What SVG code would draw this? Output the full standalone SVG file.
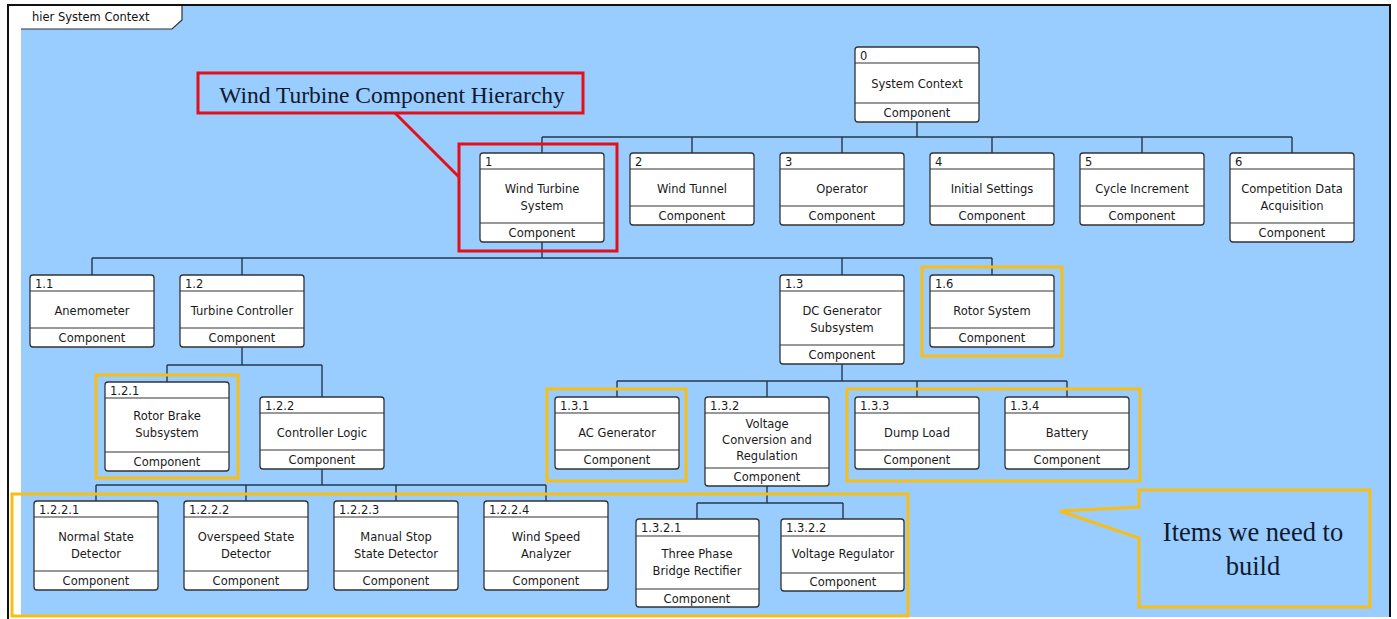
<svg xmlns="http://www.w3.org/2000/svg" width="1397" height="619" viewBox="0 0 1397 619">
<defs>
<style>
.n rect.b{fill:#fff;stroke:#333;stroke-width:1.3}
.n line{stroke:#333;stroke-width:1.2}
.n text{font-family:"DejaVu Sans","Liberation Sans",sans-serif;font-size:11.5px;fill:#1a1a1a}
.n text.c{text-anchor:middle}
.con path{fill:none;stroke:#24384c;stroke-width:1.4}
.y{fill:none;stroke:#F7BE16;stroke-width:3}
.r{fill:none;stroke:#E3101A;stroke-width:3}
.t{font-family:"Liberation Serif",serif;fill:#0e1a2e;text-anchor:middle}
</style>
</defs>
<rect x="0" y="0" width="1397" height="619" fill="#fff"/>
<rect x="21" y="6" width="1368" height="611" fill="#99CCFF"/>
<path d="M7 5H1391M8 5V619M1390 5V617" fill="none" stroke="#111" stroke-width="2"/>
<g id="frame-tab">
<path d="M21 6H182V20L172 29H21Z" fill="#fff"/>
<path d="M21 29H172L182 20V6" fill="none" stroke="#333" stroke-width="1.2"/>
<text x="32" y="21" style="font-family:'DejaVu Sans','Liberation Sans',sans-serif;font-size:11.5px;fill:#111">hier System Context</text>
</g>

<g id="connectors" class="con">
<path d="M917 122V137M542 137H1292M542 137V153M692 137V153M842 137V153M992 137V153M1142 137V153M1292 137V153"/>
<path d="M542 242V258M92 258H992M92 258V275M242 258V275M842 258V275M992 258V275"/>
<path d="M242 347V365M167 365H322M167 365V382M322 365V397"/>
<path d="M842 364V381M617 381H1067M617 381V397M767 381V397M917 381V397M1067 381V397"/>
<path d="M322 469V485M96 485H546M96 485V501M246 485V501M396 485V501M546 485V501"/>
<path d="M767 486V503M697 503H843M697 503V519M843 503V519"/>
</g>

<g id="n0" class="n"><rect class="b" x="855" y="47" width="124" height="75" rx="3"/><line x1="855" y1="63" x2="979" y2="63"/><line x1="855" y1="103" x2="979" y2="103"/><text x="860" y="60">0</text><text class="c" x="917" y="88">System Context</text><text class="c" x="917" y="117">Component</text></g>

<g id="n1" class="n"><rect class="b" x="480" y="153" width="124" height="89" rx="3"/><line x1="480" y1="169" x2="604" y2="169"/><line x1="480" y1="223" x2="604" y2="223"/><text x="485" y="166">1</text><text class="c" x="542" y="193">Wind Turbine</text><text class="c" x="542" y="210">System</text><text class="c" x="542" y="237">Component</text></g>
<g id="n2" class="n"><rect class="b" x="630" y="153" width="124" height="72" rx="3"/><line x1="630" y1="169" x2="754" y2="169"/><line x1="630" y1="206" x2="754" y2="206"/><text x="635" y="166">2</text><text class="c" x="692" y="193">Wind Tunnel</text><text class="c" x="692" y="220">Component</text></g>
<g id="n3" class="n"><rect class="b" x="780" y="153" width="124" height="72" rx="3"/><line x1="780" y1="169" x2="904" y2="169"/><line x1="780" y1="206" x2="904" y2="206"/><text x="785" y="166">3</text><text class="c" x="842" y="193">Operator</text><text class="c" x="842" y="220">Component</text></g>
<g id="n4" class="n"><rect class="b" x="930" y="153" width="124" height="72" rx="3"/><line x1="930" y1="169" x2="1054" y2="169"/><line x1="930" y1="206" x2="1054" y2="206"/><text x="935" y="166">4</text><text class="c" x="992" y="193">Initial Settings</text><text class="c" x="992" y="220">Component</text></g>
<g id="n5" class="n"><rect class="b" x="1080" y="153" width="124" height="72" rx="3"/><line x1="1080" y1="169" x2="1204" y2="169"/><line x1="1080" y1="206" x2="1204" y2="206"/><text x="1085" y="166">5</text><text class="c" x="1142" y="193">Cycle Increment</text><text class="c" x="1142" y="220">Component</text></g>
<g id="n6" class="n"><rect class="b" x="1230" y="153" width="124" height="89" rx="3"/><line x1="1230" y1="169" x2="1354" y2="169"/><line x1="1230" y1="223" x2="1354" y2="223"/><text x="1235" y="166">6</text><text class="c" x="1292" y="193">Competition Data</text><text class="c" x="1292" y="210">Acquisition</text><text class="c" x="1292" y="237">Component</text></g>

<g id="n1-1" class="n"><rect class="b" x="30" y="275" width="124" height="72" rx="3"/><line x1="30" y1="291" x2="154" y2="291"/><line x1="30" y1="328" x2="154" y2="328"/><text x="35" y="288">1.1</text><text class="c" x="92" y="315">Anemometer</text><text class="c" x="92" y="342">Component</text></g>
<g id="n1-2" class="n"><rect class="b" x="180" y="275" width="124" height="72" rx="3"/><line x1="180" y1="291" x2="304" y2="291"/><line x1="180" y1="328" x2="304" y2="328"/><text x="185" y="288">1.2</text><text class="c" x="242" y="315">Turbine Controller</text><text class="c" x="242" y="342">Component</text></g>
<g id="n1-3" class="n"><rect class="b" x="780" y="275" width="124" height="89" rx="3"/><line x1="780" y1="291" x2="904" y2="291"/><line x1="780" y1="345" x2="904" y2="345"/><text x="785" y="288">1.3</text><text class="c" x="842" y="315">DC Generator</text><text class="c" x="842" y="332">Subsystem</text><text class="c" x="842" y="359">Component</text></g>
<g id="n1-6" class="n"><rect class="b" x="930" y="275" width="124" height="72" rx="3"/><line x1="930" y1="291" x2="1054" y2="291"/><line x1="930" y1="328" x2="1054" y2="328"/><text x="935" y="288">1.6</text><text class="c" x="992" y="315">Rotor System</text><text class="c" x="992" y="342">Component</text></g>

<g id="n1-2-1" class="n"><rect class="b" x="105" y="382" width="124" height="89" rx="3"/><line x1="105" y1="398" x2="229" y2="398"/><line x1="105" y1="452" x2="229" y2="452"/><text x="110" y="395">1.2.1</text><text class="c" x="167" y="420">Rotor Brake</text><text class="c" x="167" y="437">Subsystem</text><text class="c" x="167" y="466">Component</text></g>
<g id="n1-2-2" class="n"><rect class="b" x="260" y="397" width="124" height="72" rx="3"/><line x1="260" y1="413" x2="384" y2="413"/><line x1="260" y1="450" x2="384" y2="450"/><text x="265" y="410">1.2.2</text><text class="c" x="322" y="437">Controller Logic</text><text class="c" x="322" y="464">Component</text></g>

<g id="n1-3-1" class="n"><rect class="b" x="555" y="397" width="124" height="72" rx="3"/><line x1="555" y1="413" x2="679" y2="413"/><line x1="555" y1="450" x2="679" y2="450"/><text x="560" y="410">1.3.1</text><text class="c" x="617" y="437">AC Generator</text><text class="c" x="617" y="464">Component</text></g>
<g id="n1-3-2" class="n"><rect class="b" x="705" y="397" width="124" height="89" rx="3"/><line x1="705" y1="413" x2="829" y2="413"/><line x1="705" y1="468" x2="829" y2="468"/><text x="710" y="410">1.3.2</text><text class="c" x="767" y="428">Voltage</text><text class="c" x="767" y="444">Conversion and</text><text class="c" x="767" y="460">Regulation</text><text class="c" x="767" y="481">Component</text></g>
<g id="n1-3-3" class="n"><rect class="b" x="855" y="397" width="124" height="72" rx="3"/><line x1="855" y1="413" x2="979" y2="413"/><line x1="855" y1="450" x2="979" y2="450"/><text x="860" y="410">1.3.3</text><text class="c" x="917" y="437">Dump Load</text><text class="c" x="917" y="464">Component</text></g>
<g id="n1-3-4" class="n"><rect class="b" x="1005" y="397" width="124" height="72" rx="3"/><line x1="1005" y1="413" x2="1129" y2="413"/><line x1="1005" y1="450" x2="1129" y2="450"/><text x="1010" y="410">1.3.4</text><text class="c" x="1067" y="437">Battery</text><text class="c" x="1067" y="464">Component</text></g>

<g id="n1-2-2-1" class="n"><rect class="b" x="34" y="501" width="124" height="89" rx="3"/><line x1="34" y1="517" x2="158" y2="517"/><line x1="34" y1="571" x2="158" y2="571"/><text x="39" y="514">1.2.2.1</text><text class="c" x="96" y="541">Normal State</text><text class="c" x="96" y="558">Detector</text><text class="c" x="96" y="585">Component</text></g>
<g id="n1-2-2-2" class="n"><rect class="b" x="184" y="501" width="124" height="89" rx="3"/><line x1="184" y1="517" x2="308" y2="517"/><line x1="184" y1="571" x2="308" y2="571"/><text x="189" y="514">1.2.2.2</text><text class="c" x="246" y="541">Overspeed State</text><text class="c" x="246" y="558">Detector</text><text class="c" x="246" y="585">Component</text></g>
<g id="n1-2-2-3" class="n"><rect class="b" x="334" y="501" width="124" height="89" rx="3"/><line x1="334" y1="517" x2="458" y2="517"/><line x1="334" y1="571" x2="458" y2="571"/><text x="339" y="514">1.2.2.3</text><text class="c" x="396" y="541">Manual Stop</text><text class="c" x="396" y="558">State Detector</text><text class="c" x="396" y="585">Component</text></g>
<g id="n1-2-2-4" class="n"><rect class="b" x="484" y="501" width="124" height="89" rx="3"/><line x1="484" y1="517" x2="608" y2="517"/><line x1="484" y1="571" x2="608" y2="571"/><text x="489" y="514">1.2.2.4</text><text class="c" x="546" y="541">Wind Speed</text><text class="c" x="546" y="558">Analyzer</text><text class="c" x="546" y="585">Component</text></g>

<g id="n1-3-2-1" class="n"><rect class="b" x="636" y="519" width="123" height="88" rx="3"/><line x1="636" y1="536" x2="759" y2="536"/><line x1="636" y1="589" x2="759" y2="589"/><text x="641" y="532">1.3.2.1</text><text class="c" x="697" y="558">Three Phase</text><text class="c" x="697" y="575">Bridge Rectifier</text><text class="c" x="697" y="603">Component</text></g>
<g id="n1-3-2-2" class="n"><rect class="b" x="781" y="519" width="123" height="72" rx="3"/><line x1="781" y1="536" x2="904" y2="536"/><line x1="781" y1="573" x2="904" y2="573"/><text x="786" y="532">1.3.2.2</text><text class="c" x="843" y="558">Voltage Regulator</text><text class="c" x="843" y="586">Component</text></g>

<g id="highlights">
<rect class="y" x="922" y="267" width="140" height="89"/>
<rect class="y" x="96" y="375" width="142" height="103"/>
<rect class="y" x="547" y="389" width="139" height="92"/>
<rect class="y" x="847" y="389" width="293" height="92"/>
<rect class="y" x="12" y="494" width="896" height="122"/>
<rect class="r" x="459" y="144" width="158" height="107"/>
</g>

<g id="callout-hierarchy">
<rect class="r" x="198" y="73" width="385" height="40"/>
<line x1="395" y1="113" x2="459" y2="177" stroke="#E3101A" stroke-width="3"/>
<text class="t" x="392" y="103" font-size="23.5">Wind Turbine Component Hierarchy</text>
</g>

<g id="callout-build">
<path class="y" d="M1139 490H1370V607H1139V538L1060 511L1139 507Z"/>
<text class="t" x="1253" y="541" font-size="26.5">Items we need to</text>
<text class="t" x="1253" y="575" font-size="26.5">build</text>
</g>
</svg>
